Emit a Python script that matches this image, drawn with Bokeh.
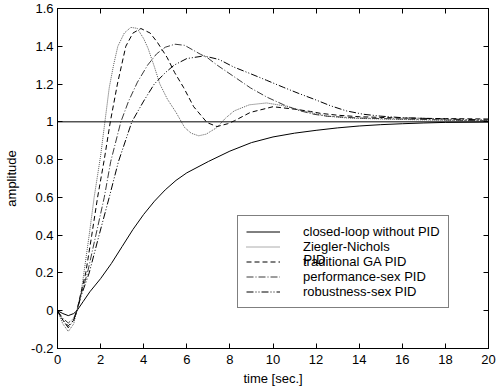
from bokeh.plotting import figure
from bokeh.models import (Span, Legend, LegendItem, LinearAxis, FixedTicker, Label,
                          CustomLabelingPolicy)
from bokeh.embed import file_html
from bokeh.resources import INLINE

# ---------------- data ----------------
t_closed = [0, 0.25, 0.5, 0.75, 0.9, 1.2, 1.5, 2.0, 2.5, 3.0, 3.5, 4.0, 4.5, 5.0, 5.5, 6.0,
            7.0, 8.0, 9.0, 10.0, 11.0, 12.0, 13.0, 14.0, 15.0, 16.0, 17.0, 18.0, 20.0]
y_closed = [0, -0.015, -0.026, -0.015, 0, 0.05, 0.1, 0.17, 0.25, 0.34, 0.43, 0.51, 0.58, 0.64,
            0.69, 0.73, 0.79, 0.845, 0.89, 0.92, 0.94, 0.955, 0.968, 0.978, 0.985, 0.99, 0.994,
            0.997, 0.999]

t_zn = [0, 0.25, 0.5, 0.75, 0.9, 1.1, 1.25, 1.47, 1.7, 2.0, 2.2, 2.4, 2.6, 2.8, 3.1, 3.4, 3.7,
        4.0, 4.2, 4.5, 4.75, 5.1, 5.5, 5.9, 6.2, 6.55, 6.9, 7.4, 7.8, 8.2, 8.9, 9.7, 10.5, 11.0,
        11.7, 12.5, 13.5, 15.0, 17.0, 20.0]
y_zn = [0, -0.07, -0.11, -0.07, 0, 0.1, 0.22, 0.4, 0.6, 0.82, 1.0, 1.18, 1.3, 1.4, 1.47, 1.5,
        1.495, 1.44, 1.39, 1.29, 1.2, 1.12, 1.05, 0.97, 0.94, 0.926, 0.935, 0.97, 1.02, 1.058,
        1.09, 1.1, 1.085, 1.07, 1.05, 1.03, 1.02, 1.015, 1.01, 1.005]

t_ga = [0, 0.25, 0.5, 0.75, 0.9, 1.1, 1.31, 1.59, 1.86, 2.17, 2.45, 2.78, 3.17, 3.5, 3.87, 4.3,
        4.64, 5.09, 5.44, 5.86, 6.32, 6.94, 7.4, 7.9, 8.2, 8.95, 10.0, 11.0, 11.74, 12.2, 13.0,
        14.0, 16.0, 18.0, 20.0]
y_ga = [0, -0.05, -0.08, -0.05, 0, 0.1, 0.2, 0.4, 0.6, 0.8, 1.0, 1.2, 1.4, 1.47, 1.494, 1.47,
        1.42, 1.34, 1.26, 1.18, 1.08, 0.996, 0.975, 0.99, 1.005, 1.05, 1.08, 1.067, 1.055, 1.045,
        1.035, 1.027, 1.02, 1.017, 1.015]

t_perf = [0, 0.25, 0.5, 0.75, 0.9, 1.1, 1.39, 1.78, 2.17, 2.47, 2.94, 3.3, 3.71, 4.18, 4.6, 5.0,
          5.45, 5.9, 6.63, 6.95, 7.41, 8.18, 8.95, 9.73, 10.5, 11.2, 11.9, 12.5, 14.0, 16.0,
          18.0, 20.0]
y_perf = [0, -0.04, -0.065, -0.04, 0, 0.09, 0.2, 0.4, 0.6, 0.79, 1.0, 1.11, 1.21, 1.3, 1.36,
          1.395, 1.411, 1.405, 1.358, 1.34, 1.30, 1.24, 1.18, 1.13, 1.09, 1.06, 1.04, 1.03,
          1.02, 1.015, 1.01, 1.005]

t_rob = [0, 0.25, 0.5, 0.75, 0.9, 1.1, 1.47, 1.93, 2.4, 2.83, 3.45, 4.0, 4.49, 5.0, 5.41, 6.0,
         6.8, 7.5, 8.18, 8.95, 9.7, 10.5, 11.2, 11.9, 12.67, 13.4, 14.2, 15.0, 16.0, 18.0, 20.0]
y_rob = [0, -0.05, -0.09, -0.05, 0, 0.08, 0.2, 0.4, 0.6, 0.79, 1.0, 1.11, 1.2, 1.26, 1.3, 1.335,
         1.349, 1.33, 1.29, 1.255, 1.22, 1.182, 1.15, 1.12, 1.085, 1.058, 1.04, 1.03, 1.022,
         1.015, 1.01]

series_labels = ["closed-loop without PID", "Ziegler-Nichols", "traditional GA PID",
                 "performance-sex PID", "robustness-sex PID"]
zn_second_line = "PID"

reference_level = 1.0
x_ticks = [0, 2, 4, 6, 8, 10, 12, 14, 16, 18, 20]
y_ticks = [-0.2, 0, 0.2, 0.4, 0.6, 0.8, 1, 1.2, 1.4, 1.6]
y_tick_labels = ["-0.2", "0", "0.2", "0.4", "0.6", "0.8", "1", "1.2", "1.4", "1.6"]

FONT = "Liberation Sans"
FS = "13px"

p = figure(width=499, height=392, x_range=(0, 20), y_range=(-0.2, 1.6),
           output_backend="svg", toolbar_location=None,
           min_border_left=57, min_border_right=11, min_border_top=8, min_border_bottom=44)
p.grid.visible = False
p.outline_line_color = "black"
p.background_fill_color = "white"
p.border_fill_color = "white"

p.xaxis.ticker = FixedTicker(ticks=x_ticks)
p.yaxis.ticker = FixedTicker(ticks=y_ticks)
p.yaxis.major_label_overrides = {float(v): s for v, s in zip(y_ticks, y_tick_labels)}

for ax in (p.xaxis[0], p.yaxis[0]):
    ax.major_tick_in = 5
    ax.major_tick_out = 0
    ax.minor_tick_line_color = None
    ax.axis_line_color = "black"
    ax.major_tick_line_color = "black"
    ax.major_label_text_font = FONT
    ax.major_label_text_font_size = FS
    ax.major_label_text_color = "black"
    ax.axis_label_text_font = FONT
    ax.axis_label_text_font_size = FS
    ax.axis_label_text_font_style = "normal"
    ax.axis_label_text_color = "black"

p.xaxis.axis_label = "time [sec.]"
p.yaxis.axis_label = "amplitude"
p.xaxis.major_label_standoff = 6
p.xaxis.axis_label_standoff = 4
p.yaxis.major_label_standoff = 4
p.yaxis.axis_label_standoff = 9

no_labels = CustomLabelingPolicy(code="return new Set()")
for side, tk in (("above", x_ticks), ("right", y_ticks)):
    ax = LinearAxis(ticker=FixedTicker(ticks=tk), major_tick_in=5, major_tick_out=0,
                    minor_tick_line_color=None, major_label_text_font_size="0px",
                    major_label_policy=no_labels,
                    major_label_standoff=0, axis_line_color="black",
                    major_tick_line_color="black")
    p.add_layout(ax, side)

p.add_layout(Span(location=reference_level, dimension="width", line_color="black", line_width=1))

r1 = p.line(t_closed, y_closed, line_color="black", line_width=1)
r2 = p.line(t_zn, y_zn, line_color="#5a5a5a", line_width=1, line_dash="1 1")
r3 = p.line(t_ga, y_ga, line_color="black", line_width=1, line_dash="5 3")
r4 = p.line(t_perf, y_perf, line_color="#3a3a3a", line_width=1, line_dash="7 2 1 2")
r5 = p.line(t_rob, y_rob, line_color="black", line_width=1, line_dash="7 2 1 2 1 2")

# second line of the Ziegler-Nichols legend entry (overlaps the next entry, as in the original)
p.add_layout(Label(x=11.42, y=0.27, text=zn_second_line,
                   text_font=FONT, text_font_size=FS, text_color="black",
                   text_baseline="middle", text_align="left", level="overlay"))

legend = Legend(items=[LegendItem(label=lab, renderers=[r]) for lab, r in
                       zip(series_labels, [r1, r2, r3, r4, r5])],
                location=(180, 40), padding=8, spacing=0, glyph_width=34, glyph_height=15,
                label_height=15, label_standoff=23, label_text_font=FONT,
                label_text_font_size=FS, label_text_color="black",
                border_line_color="black", border_line_width=1,
                background_fill_color="white", background_fill_alpha=0.0, margin=0)
p.add_layout(legend, "center")

open("out.html", "w").write(file_html(p, INLINE))
